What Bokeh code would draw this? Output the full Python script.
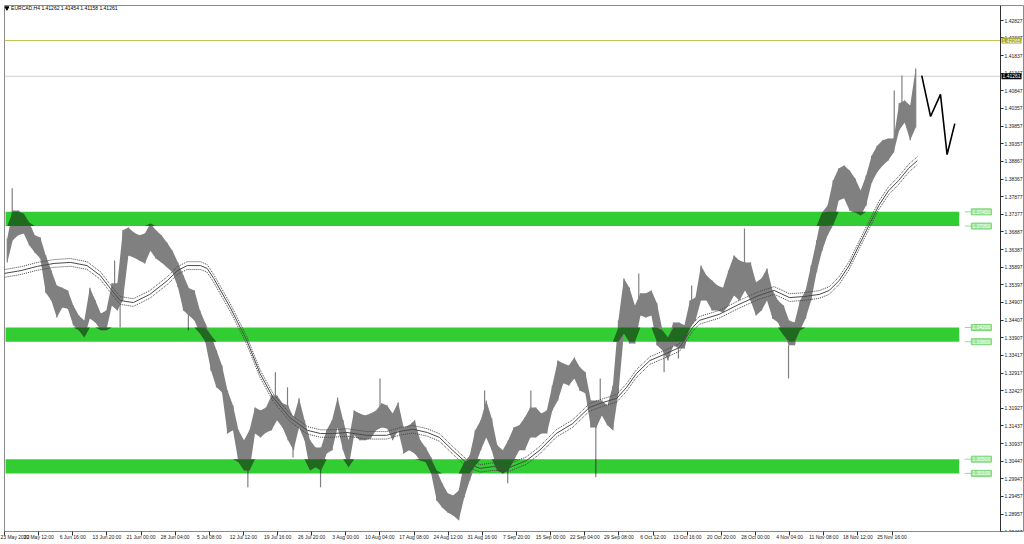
from bokeh.plotting import figure
from bokeh.models import Range1d, FixedTicker, PrintfTickFormatter, Label, Span
from bokeh.embed import file_html
from bokeh.resources import INLINE

FONT = "Liberation Sans"

# ---------------- data ----------------
title_text = "EURCAD,H4  1.41262 1.41454 1.41158 1.41261"

bars_per_block = 5   # every entry below summarises 5 consecutive H4 candles
block_high = [
    1.3670, 1.3749, 1.3749, 1.3740, 1.3715, 1.3679, 1.3673, 1.3622, 1.3580, 1.3538,
    1.3532, 1.3524, 1.3482, 1.3454, 1.3440, 1.3532, 1.3496, 1.3459, 1.3468, 1.3544,
    1.3544, 1.3693, 1.3701, 1.3687, 1.3679, 1.3684, 1.3712, 1.3693, 1.3679, 1.3659,
    1.3636, 1.3603, 1.3566, 1.3530, 1.3524, 1.3468, 1.3431, 1.3398, 1.3356, 1.3313,
    1.3243, 1.3201, 1.3131, 1.3103, 1.3131, 1.3195, 1.3187, 1.3195, 1.3229, 1.3229,
    1.3207, 1.3201, 1.3167, 1.3221, 1.3159, 1.3103, 1.3083, 1.3083, 1.3131, 1.3159,
    1.3223, 1.3159, 1.3103, 1.3187, 1.3178, 1.3173, 1.3178, 1.3187, 1.3207, 1.3201,
    1.3178, 1.3209, 1.3139, 1.3145, 1.3159, 1.3103, 1.3083, 1.3055, 1.3018, 1.2982,
    1.2954, 1.2948, 1.2962, 1.3041, 1.3060, 1.3131, 1.3159, 1.3215, 1.3164, 1.3089,
    1.3075, 1.3103, 1.3139, 1.3145, 1.3167, 1.3195, 1.3195, 1.3178, 1.3187, 1.3257,
    1.3327, 1.3319, 1.3313, 1.3336, 1.3308, 1.3294, 1.3215, 1.3215, 1.3215, 1.3201,
    1.3257, 1.3440, 1.3558, 1.3532, 1.3482, 1.3516, 1.3516, 1.3524, 1.3488, 1.3412,
    1.3392, 1.3434, 1.3434, 1.3426, 1.3496, 1.3504, 1.3594, 1.3566, 1.3552, 1.3538,
    1.3532, 1.3580, 1.3622, 1.3608, 1.3603, 1.3603, 1.3547, 1.3558, 1.3586, 1.3524,
    1.3496, 1.3482, 1.3440, 1.3434, 1.3496, 1.3524, 1.3594, 1.3665, 1.3743, 1.3763,
    1.3833, 1.3867, 1.3875, 1.3861, 1.3839, 1.3805, 1.3847, 1.3903, 1.3931, 1.3946,
    1.3951, 1.3951, 1.4050, 1.4058, 1.4044, 1.4148,
]
block_low = [
    1.3603, 1.3665, 1.3679, 1.3684, 1.3651, 1.3631, 1.3614, 1.3518, 1.3496, 1.3448,
    1.3476, 1.3473, 1.3426, 1.3412, 1.3392, 1.3445, 1.3434, 1.3412, 1.3412, 1.3482,
    1.3468, 1.3496, 1.3622, 1.3617, 1.3608, 1.3600, 1.3636, 1.3614, 1.3603, 1.3589,
    1.3575, 1.3533, 1.3468, 1.3454, 1.3440, 1.3403, 1.3378, 1.3299, 1.3252, 1.3238,
    1.3122, 1.3131, 1.3041, 1.3018, 1.3018, 1.3122, 1.3111, 1.3125, 1.3131, 1.3159,
    1.3139, 1.3103, 1.3075, 1.3139, 1.3103, 1.3018, 1.3027, 1.3018, 1.3066, 1.3075,
    1.3139, 1.3075, 1.3027, 1.3117, 1.3103, 1.3103, 1.3108, 1.3131, 1.3139, 1.3136,
    1.3103, 1.3131, 1.3066, 1.3075, 1.3066, 1.3046, 1.3041, 1.3010, 1.2934, 1.2914,
    1.2900, 1.2892, 1.2878, 1.2942, 1.2990, 1.3032, 1.3075, 1.3111, 1.3075, 1.3018,
    1.3010, 1.3018, 1.3046, 1.3075, 1.3075, 1.3111, 1.3111, 1.3122, 1.3122, 1.3187,
    1.3215, 1.3263, 1.3257, 1.3277, 1.3243, 1.3235, 1.3139, 1.3139, 1.3173, 1.3145,
    1.3131, 1.3235, 1.3403, 1.3375, 1.3375, 1.3454, 1.3448, 1.3454, 1.3370, 1.3356,
    1.3327, 1.3370, 1.3361, 1.3361, 1.3420, 1.3440, 1.3496, 1.3496, 1.3468, 1.3468,
    1.3462, 1.3482, 1.3510, 1.3496, 1.3524, 1.3496, 1.3454, 1.3468, 1.3496, 1.3445,
    1.3434, 1.3398, 1.3370, 1.3370, 1.3412, 1.3445, 1.3496, 1.3575, 1.3636, 1.3679,
    1.3707, 1.3777, 1.3783, 1.3749, 1.3743, 1.3735, 1.3763, 1.3827, 1.3856, 1.3875,
    1.3889, 1.3912, 1.3974, 1.3996, 1.3946, 1.3982,
]

# single long wicks (bar index, high, low)
spike_bar = [7, 100, 105, 167, 221, 246, 257, 262, 287, 341, 436, 457,
             478, 537, 541, 576, 599, 612, 624, 672, 712, 808, 815]
spike_high = [1.3811, 1.3608, 1.3490, 1.3496, 1.3103, 1.3294, 1.3252, 1.3131,
              1.3075, 1.3277, 1.3243, 1.3046, 1.3243, 1.3159, 1.3277, 1.3572,
              1.3356, 1.3370, 1.3538, 1.3698, 1.3370, 1.4086, 1.4128]
spike_low = [1.3700, 1.3510, 1.3420, 1.3412, 1.2971, 1.3195, 1.3159, 1.3055,
             1.2971, 1.3173, 1.3159, 1.2982, 1.3159, 1.2999, 1.3195, 1.3496,
             1.3294, 1.3333, 1.3468, 1.3566, 1.3277, 1.3946, 1.4022]

# moving average (bar index, value) and envelope deviation
ma_bar = [0, 15, 30, 45, 60, 75, 87, 96, 105, 117, 132, 148, 157, 166, 178, 184,
          190, 205, 220, 232, 244, 259, 275, 287, 298, 311, 329, 347, 359, 371,
          384, 395, 407, 420, 432, 443, 459, 474, 486, 501, 516, 531, 543, 556,
          565, 574, 586, 601, 613, 625, 631, 649, 667, 685, 699, 713, 726, 740,
          749, 758, 767, 776, 785, 794, 803, 812, 821, 829]
ma_price = [1.3572, 1.3580, 1.3592, 1.3600, 1.3603, 1.3594, 1.3566, 1.3530, 1.3496,
            1.3490, 1.3513, 1.3552, 1.3580, 1.3594, 1.3594, 1.3586, 1.3558, 1.3476,
            1.3384, 1.3291, 1.3223, 1.3167, 1.3131, 1.3122, 1.3122, 1.3125, 1.3117,
            1.3117, 1.3128, 1.3134, 1.3125, 1.3111, 1.3075, 1.3038, 1.3024, 1.3029,
            1.3027, 1.3046, 1.3075, 1.3122, 1.3150, 1.3195, 1.3209, 1.3221, 1.3252,
            1.3291, 1.3327, 1.3347, 1.3364, 1.3420, 1.3440, 1.3457, 1.3485, 1.3510,
            1.3524, 1.3504, 1.3507, 1.3513, 1.3524, 1.3552, 1.3594, 1.3651, 1.3707,
            1.3763, 1.3805, 1.3833, 1.3867, 1.3889]
envelope_dev = 0.0008

# hand-drawn forecast path
forecast_bar = [833, 841, 850, 856, 863]
forecast_price = [1.4128, 1.4013, 1.4075, 1.3906, 1.3993]

# support / resistance zones
zone_top = [1.3745, 1.3420, 1.3050]
zone_bottom = [1.3705, 1.3380, 1.3010]
zone_start_bar = 1
zone_end_bar = 867

level_yellow = 1.42265
level_bid = 1.41261

price_ticks = [1.42827, 1.42337, 1.41837, 1.41347, 1.40847, 1.40357, 1.39857,
               1.39357, 1.38867, 1.38367, 1.37877, 1.37377, 1.36887, 1.36387,
               1.35897, 1.35397, 1.34907, 1.34407, 1.33907, 1.33417, 1.32917,
               1.32427, 1.31927, 1.31437, 1.30937, 1.30447, 1.29947, 1.29457,
               1.28957, 1.28467]

date_tick_step = 31
date_labels = ["23 May 2022", "30 May 12:00", "6 Jun 16:00", "13 Jun 20:00",
               "21 Jun 00:00", "28 Jun 04:00", "5 Jul 08:00", "12 Jul 12:00",
               "19 Jul 16:00", "26 Jul 20:00", "3 Aug 00:00", "10 Aug 04:00",
               "17 Aug 08:00", "24 Aug 12:00", "31 Aug 16:00", "7 Sep 20:00",
               "15 Sep 00:00", "22 Sep 04:00", "29 Sep 08:00", "6 Oct 12:00",
               "13 Oct 16:00", "20 Oct 20:00", "28 Oct 00:00", "4 Nov 04:00",
               "11 Nov 08:00", "18 Nov 12:00", "25 Nov 16:00"]

# ---------------- figure ----------------
CHART_END = 904.5      # bar position of the price scale
X_END = 926.3          # frame runs under the price scale as well
Y_LO, Y_HI = 1.28467, 1.43249

p = figure(width=1024, height=544, output_backend="svg", toolbar_location=None,
           x_range=Range1d(0, X_END), y_range=Range1d(Y_LO, Y_HI),
           y_axis_location="right",
           min_border_left=4, min_border_top=5, min_border_right=0,
           min_border_bottom=13)
p.xgrid.visible = False
p.ygrid.visible = False
p.background_fill_color = "white"
p.border_fill_color = "white"
p.outline_line_color = "#8a8a8a"
p.outline_line_width = 1

# horizontal lines
p.segment(x0=[0, 0], x1=[CHART_END, CHART_END], y0=[level_yellow, level_bid],
          y1=[level_yellow, level_bid], line_color=["#c2c25a", "#cfcfcf"], line_width=1)

# zones
ZONE_GREEN = "#32cd32"
p.quad(left=[zone_start_bar] * len(zone_top), right=[zone_end_bar] * len(zone_top),
       top=zone_top, bottom=zone_bottom, fill_color=ZONE_GREEN, line_color=None)

# candles (summarised as a high/low band)
CANDLE = "#808080"
block_x = [bars_per_block * k + bars_per_block / 2 for k in range(len(block_high))]
p.varea(x=block_x, y1=block_low, y2=block_high, fill_color=CANDLE)
p.segment(x0=block_x, x1=block_x, y0=block_low, y1=block_high,
          line_color=CANDLE, line_width=1.2)
p.segment(x0=spike_bar, x1=spike_bar, y0=spike_low, y1=spike_high,
          line_color=CANDLE, line_width=1.2)

# darker look of candles where they cross the green zones
DARK = "#1f6a1f"
for zt, zb in zip(zone_top, zone_bottom):
    lo = [min(max(l, zb), zt) for l in block_low]
    hi = [max(min(h, zt), zb) for h in block_high]
    p.varea(x=block_x, y1=lo, y2=hi, fill_color=DARK)
sv_x, sv_t, sv_b = [], [], []
for x, h, l in zip(spike_bar, spike_high, spike_low):
    for zt, zb in zip(zone_top, zone_bottom):
        t, b = min(h, zt), max(l, zb)
        if t > b:
            sv_x.append(x); sv_t.append(t); sv_b.append(b)
p.segment(x0=sv_x, x1=sv_x, y0=sv_b, y1=sv_t, line_color=DARK, line_width=1.2)

# moving average with envelope
ma_up = [m * (1 + envelope_dev) for m in ma_price]
ma_dn = [m * (1 - envelope_dev) for m in ma_price]
p.line(ma_bar, ma_price, line_color="#4a4a4a", line_width=1)
p.line(ma_bar, ma_up, line_color="#444444", line_width=1, line_dash="1 1")
p.line(ma_bar, ma_dn, line_color="#444444", line_width=1, line_dash="1 1")

# forecast zig-zag
p.line(forecast_bar, forecast_price, line_color="black", line_width=1.6)

# zone price tags
for zt, zb in zip(zone_top, zone_bottom):
    for lv in (zt, zb):
        p.segment(x0=[zone_end_bar + 5], x1=[zone_end_bar + 11], y0=[lv], y1=[lv],
                  line_color="#8fe08f", line_width=1)
        p.add_layout(Label(x=zone_end_bar + 11, y=lv, text=f"{lv:.5f}",
                           text_font=FONT, text_font_size="5px", text_color="white",
                           text_baseline="middle", text_align="left",
                           background_fill_color="#9ae69a",
                           border_line_color="#7ad67a", padding=1))

# title
p.scatter(x=[2.2], y=[1.4318], marker="inverted_triangle", size=4,
          fill_color="black", line_color="black")
p.add_layout(Label(x=6, y=1.4318, text=title_text, text_font=FONT,
                   text_font_size="5px", text_color="black", text_baseline="middle",
                   text_align="left"))

# price axis, pinned at the end of the chart area
ya = p.yaxis[0]
ya.fixed_location = CHART_END
ya.ticker = FixedTicker(ticks=price_ticks)
ya.formatter = PrintfTickFormatter(format="%.5f")
ya.major_label_text_font = FONT
ya.major_label_text_font_size = "5px"
ya.major_label_text_color = "#202020"
ya.major_tick_out = 3
ya.major_tick_in = 0
ya.minor_tick_out = 0
ya.minor_tick_in = 0
ya.major_label_standoff = 1
ya.axis_line_color = "#303030"
ya.major_tick_line_color = "#303030"

# price tags over the price scale
for lv, bg in ((level_yellow, "#a8a834"), (level_bid, "black")):
    p.add_layout(Label(x=CHART_END, y=lv, text=f"{lv:.5f}", text_font=FONT,
                       text_font_size="5px", text_color="white", text_baseline="middle",
                       text_align="left", background_fill_color=bg, padding=1,
                       x_offset=1, level="overlay"))

# date axis
xa = p.xaxis[0]
date_ticks = [date_tick_step * k for k in range(len(date_labels))]
xa.ticker = FixedTicker(ticks=date_ticks)
xa.major_label_overrides = {t: s for t, s in zip(date_ticks, date_labels)}
xa.major_label_text_font = FONT
xa.major_label_text_font_size = "5px"
xa.major_label_text_color = "#202020"
xa.major_label_text_align = "left"
xa.major_tick_out = 4
xa.major_tick_in = 0
xa.minor_tick_out = 0
xa.minor_tick_in = 0
xa.major_label_standoff = -2
xa.axis_line_color = None
xa.major_tick_line_color = "#303030"

open("out.html", "w").write(file_html(p, INLINE))
